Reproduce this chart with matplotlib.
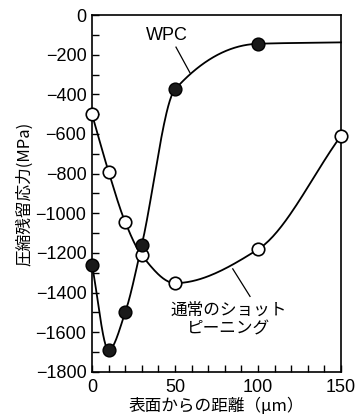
import numpy as np
import matplotlib
matplotlib.use('Agg')
import matplotlib.pyplot as plt
from matplotlib.ticker import MultipleLocator, FuncFormatter

# depth from surface (um) and residual stress (MPa)
wpc_x = [0, 10, 20, 30, 50, 100]
wpc_y = [-1260, -1690, -1500, -1160, -375, -145]
wpc_end_x, wpc_end_y = 150, -138   # curve runs on to the right edge, no marker

sp_x = [0, 10, 20, 30, 50, 100, 150]
sp_y = [-500, -790, -1044, -1212, -1352, -1182, -609]

x_ticks = [0, 50, 100, 150]
y_ticks = [0, -200, -400, -600, -800, -1000, -1200, -1400, -1600, -1800]

label_wpc = 'WPC'
label_sp = '通常のショット\nピーニング'
xlabel = '表面からの距離（μm）'
ylabel = '圧縮残留応力(MPa)'

jp = ['Noto Sans CJK JP', 'DejaVu Sans']
plt.rcParams['font.family'] = ['Liberation Sans', 'DejaVu Sans']


def smooth(xs, ys, n=40):
    # monotone cubic (Fritsch-Carlson) through the measured points
    xs = np.asarray(xs, float)
    ys = np.asarray(ys, float)
    h = np.diff(xs)
    d = np.diff(ys) / h
    m = np.zeros_like(ys)
    for k in range(1, len(xs) - 1):
        if d[k - 1] * d[k] > 0:
            w1 = 2 * h[k] + h[k - 1]
            w2 = h[k] + 2 * h[k - 1]
            m[k] = (w1 + w2) / (w1 / d[k - 1] + w2 / d[k])
    m[0] = d[0]
    m[-1] = d[-1]
    px, py = [], []
    for i in range(len(xs) - 1):
        t = np.linspace(0, 1, n)
        h00 = 2 * t**3 - 3 * t**2 + 1
        h10 = t**3 - 2 * t**2 + t
        h01 = -2 * t**3 + 3 * t**2
        h11 = t**3 - t**2
        px.append(xs[i] + t * h[i])
        py.append(h00 * ys[i] + h10 * h[i] * m[i] + h01 * ys[i + 1] + h11 * h[i] * m[i + 1])
    return np.concatenate(px), np.concatenate(py)


fig = plt.figure(figsize=(3.64, 4.17), dpi=100)
ax = fig.add_axes([0.2527, 0.108, 0.6841, 0.856])

cx, cy = smooth(wpc_x + [wpc_end_x], wpc_y + [wpc_end_y])
ax.plot(cx, cy, color='black', lw=1.3, zorder=2, clip_on=False)
sx, sy = smooth(sp_x, sp_y)
ax.plot(sx, sy, color='black', lw=1.3, zorder=2, clip_on=False)

ax.plot(wpc_x, wpc_y, 'o', ms=9.2, mfc='#1a1a1a', mec='black', mew=1.0, zorder=4, clip_on=False)
ax.plot(sp_x, sp_y, 'o', ms=9, mfc='white', mec='black', mew=1.2, zorder=3, clip_on=False)

ax.set_xlim(0, 150)
ax.set_ylim(-1800, 0)
ax.set_xticks(x_ticks)
ax.set_yticks(y_ticks)
ax.xaxis.set_minor_locator(MultipleLocator(10))
ax.yaxis.set_minor_locator(MultipleLocator(100))
ax.yaxis.set_major_formatter(FuncFormatter(lambda v, p: f'{int(v)}'.replace('-', '\u2212')))
ax.tick_params(which='both', direction='in', length=5, width=1.0, labelsize=13)
ax.tick_params(axis='y', pad=4)
ax.tick_params(axis='x', pad=5)
for s in ax.spines.values():
    s.set_linewidth(1.2)

ax.set_xlabel(xlabel, family=jp, fontsize=12, labelpad=1)
ax.set_ylabel(ylabel, family=jp, fontsize=12, labelpad=2)

ax.text(45, -101, label_wpc, fontsize=13, ha='center', va='center')
ax.plot([50.6, 59], [-162, -291], color='black', lw=0.9)

ax.text(82.3, -1536, label_sp, family=jp, fontsize=12, ha='center', va='center', linespacing=1.15)
ax.plot([84.8, 95.2], [-1280, -1419], color='black', lw=0.9)

fig.savefig('out.png', dpi=100)
